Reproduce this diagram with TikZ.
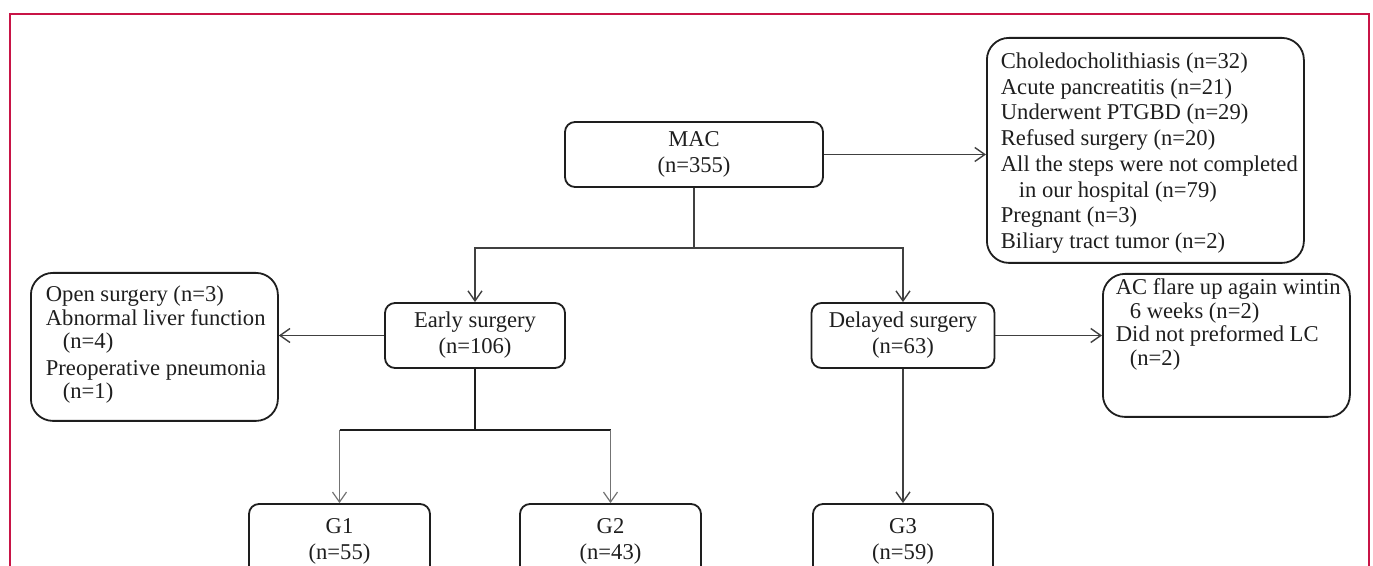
\documentclass[tikz,border=0pt]{standalone}
\usepackage{fontspec}
\setmainfont{Liberation Serif}
\usetikzlibrary{arrows.meta}
\definecolor{frame}{RGB}{200,20,70}
\definecolor{ink}{RGB}{30,30,30}

\begin{document}
\begin{tikzpicture}[x=0.5pt,y=-0.5pt,
  box/.style={draw=ink,text=ink,line width=0.9pt,rounded corners=5pt,align=center,
    minimum height=32.5pt,inner sep=0pt,font=\fontsize{11.3}{13}\selectfont},
  side/.style={draw=ink,text=ink,line width=0.9pt,rounded corners=11pt,anchor=north west,inner sep=0pt},
  link/.style={draw=ink!85,line width=0.7pt,-{Straight Barb[length=5pt,width=7pt]}},
  drop/.style={draw=black!55,line width=0.6pt,-{Straight Barb[length=5pt,width=7pt]}},
  trunk/.style={draw=ink,line width=1.2pt}]
\useasboundingbox (0,0) rectangle (1373,566);
\clip (0,0) rectangle (1373,566);
\draw[frame,line width=1pt] (10,600) -- (10,14) -- (1369,14) -- (1369,600);

% main boxes
\node[box,minimum width=129pt] (mac) at (694,154.5) {MAC\\(n=355)};
\node[box,minimum width=90pt] (early) at (475,335.5) {Early surgery\\(n=106)};
\node[box,minimum width=91.5pt] (delayed) at (903,335.5) {Delayed surgery\\(n=63)};
\node[box,minimum width=90.5pt,minimum height=37pt] (g1) at (339.5,541) {G1\\(n=55)};
\node[box,minimum width=90.5pt,minimum height=37pt] (g2) at (610.5,541) {G2\\(n=43)};
\node[box,minimum width=90pt,minimum height=37pt] (g3) at (903,541) {G3\\(n=59)};

% excluded patients
\node[side,font=\fontsize{11.3}{12.85}\selectfont] (excl) at (986,37)
  {\parbox[c][112.5pt][t]{158.5pt}{\raggedright\leftskip=7pt\vspace*{7.5pt}%
  Choledocholithiasis (n=32)\\Acute pancreatitis (n=21)\\Underwent PTGBD (n=29)\\
  Refused surgery (n=20)\\All the steps were not completed\\
  \hspace*{9pt}in our hospital (n=79)\\Pregnant (n=3)\\Biliary tract tumor (n=2)}};
\node[side,font=\fontsize{11.3}{11.8}\selectfont] (drop1) at (30,272)
  {\parbox[c][74pt][t]{123.5pt}{\raggedright\leftskip=7.5pt\vspace*{6.5pt}%
  Open surgery (n=3)\\Abnormal liver function\\\hspace*{8.5pt}(n=4)\\[1.5pt]
  Preoperative pneumonia\\\hspace*{8.5pt}(n=1)}};
\node[side,font=\fontsize{11.3}{11.75}\selectfont] (drop2) at (1102,273)
  {\parbox[c][71.5pt][t]{123.5pt}{\raggedright\leftskip=6.5pt\vspace*{2.5pt}%
  AC flare up again wintin\\\hspace*{7pt}6 weeks (n=2)\\
  Did not preformed LC\\\hspace*{7pt}(n=2)}};

% connectors
\coordinate (fork) at (694,248);
\coordinate (efork) at (475,430);
\draw[link] (mac.south) -- (fork) -| (early.north);
\draw[link] (fork) -| (delayed.north);
\draw[link] (mac.east) -- (mac.east -| excl.west);
\draw[link] (early.west) -- (early.west -| drop1.east);
\draw[link] (delayed.east) -- (delayed.east -| drop2.west);
\draw[trunk] (early.south) -- (efork);
\draw[trunk] (g1.north |- efork) -- (g2.north |- efork);
\draw[drop] (g1.north |- efork) -- (g1.north);
\draw[drop] (g2.north |- efork) -- (g2.north);
\draw[link] (delayed.south) -- (g3.north);
\end{tikzpicture}
\end{document}
